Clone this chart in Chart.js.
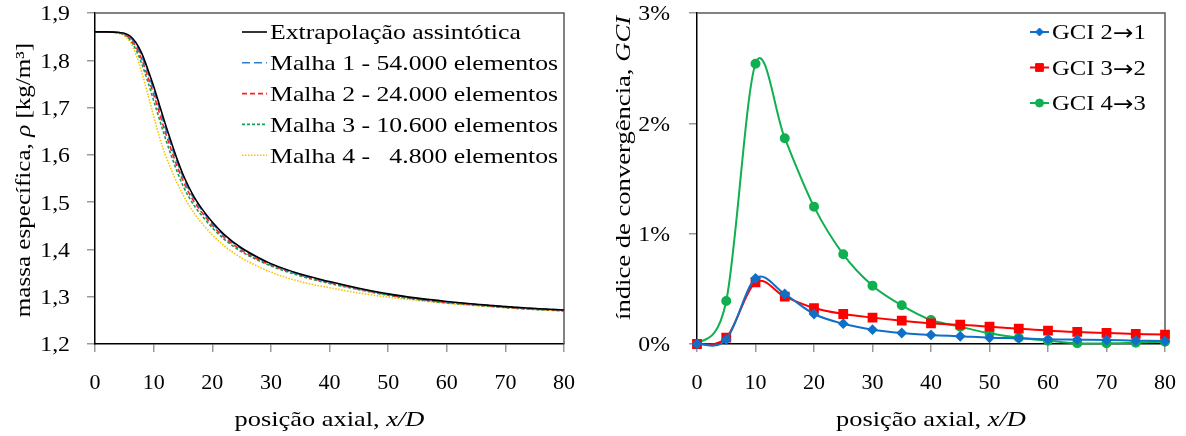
<!DOCTYPE html>
<html lang="pt">
<head>
<meta charset="utf-8">
<title>Massa específica e índice de convergência</title>
<script src="https://cdn.jsdelivr.net/npm/chart.js@4.4.1/dist/chart.umd.min.js"></script>
<style>
  html, body { margin: 0; padding: 0; background: #fff; }
  #wrap { display: flex; width: 1186px; height: 436px; }
  .box { width: 593px; height: 436px; }
</style>
</head>
<body>
<div id="wrap">
  <div class="box"><canvas id="rhoChart" width="593" height="436"></canvas></div>
  <div class="box"><canvas id="gciChart" width="593" height="436"></canvas></div>
</div>
<script>
// Massa específica ao longo do eixo
const xRho = [0, 2, 4, 5, 6, 7, 8, 9, 10, 11, 12, 13, 14, 15, 16, 17, 18, 20, 22, 25, 28, 30, 35, 40, 45, 50, 55, 60, 65, 70, 75, 80];
const rhoExtrap = [1.860, 1.860, 1.859, 1.857, 1.851, 1.837, 1.814, 1.781, 1.745, 1.705, 1.665, 1.627, 1.591, 1.559, 1.532, 1.509, 1.490, 1.458, 1.432, 1.403, 1.382, 1.370, 1.348, 1.332, 1.318, 1.306, 1.297, 1.290, 1.284, 1.279, 1.275, 1.272];
const rhoMalha1 = [1.860, 1.860, 1.859, 1.856, 1.849, 1.833, 1.808, 1.775, 1.738, 1.698, 1.658, 1.620, 1.585, 1.554, 1.527, 1.505, 1.487, 1.455, 1.430, 1.401, 1.381, 1.369, 1.347, 1.331, 1.317, 1.305, 1.296, 1.289, 1.284, 1.279, 1.275, 1.272];
const rhoMalha2 = [1.860, 1.860, 1.858, 1.855, 1.846, 1.828, 1.801, 1.766, 1.728, 1.688, 1.648, 1.611, 1.576, 1.546, 1.520, 1.499, 1.482, 1.451, 1.426, 1.398, 1.378, 1.367, 1.346, 1.330, 1.316, 1.304, 1.295, 1.288, 1.283, 1.278, 1.274, 1.271];
const rhoMalha3 = [1.860, 1.860, 1.858, 1.854, 1.843, 1.822, 1.792, 1.755, 1.715, 1.675, 1.635, 1.599, 1.565, 1.535, 1.511, 1.491, 1.475, 1.446, 1.422, 1.395, 1.376, 1.365, 1.344, 1.328, 1.315, 1.303, 1.294, 1.287, 1.282, 1.277, 1.273, 1.270];
const rhoMalha4 = [1.860, 1.860, 1.857, 1.852, 1.839, 1.812, 1.774, 1.728, 1.683, 1.637, 1.600, 1.569, 1.541, 1.516, 1.494, 1.475, 1.459, 1.431, 1.408, 1.382, 1.363, 1.352, 1.332, 1.319, 1.308, 1.299, 1.292, 1.286, 1.281, 1.277, 1.273, 1.270];

// GCI (%) nas estações x/D
const xGci = [0, 5, 10, 15, 20, 25, 30, 35, 40, 45, 50, 55, 60, 65, 70, 75, 80];
const gci21 = [0, 0.040, 0.595, 0.453, 0.272, 0.184, 0.130, 0.100, 0.082, 0.070, 0.057, 0.051, 0.042, 0.039, 0.036, 0.030, 0.027];
const gci32 = [0, 0.057, 0.559, 0.429, 0.326, 0.272, 0.239, 0.211, 0.187, 0.175, 0.157, 0.139, 0.121, 0.109, 0.100, 0.091, 0.085];
const gci43 = [0, 0.390, 2.540, 1.865, 1.245, 0.813, 0.529, 0.351, 0.218, 0.157, 0.097, 0.057, 0.030, 0.006, 0.006, 0.012, 0.021];

// Rótulos dos eixos
const xTickLabels = ['0', '10', '20', '30', '40', '50', '60', '70', '80'];
const rhoTickLabels = ['1,2', '1,3', '1,4', '1,5', '1,6', '1,7', '1,8', '1,9'];
const gciTickLabels = ['0%', '1%', '2%', '3%'];

const SERIF = "'Liberation Serif', 'Times New Roman', serif";
const ARROW_FONT = "'DejaVu Sans', sans-serif";

function toPoints(xs, ys) {
  return xs.map((x, i) => ({ x: x, y: ys[i] }));
}

// Text made of pieces (plain / italic / other font), stretched a bit
// horizontally so it looks like the wide LaTeX font of the original
function drawText(ctx, parts, x, y, o) {
  const list = parts.map((p) => (typeof p === 'string' ? { t: p } : p));
  const fontOf = (p) => (p.i ? 'italic ' : '') + (p.s || o.size) + 'px ' + (p.f || SERIF);
  ctx.save();
  ctx.translate(x, y);
  if (o.rotate) ctx.rotate(-Math.PI / 2);
  ctx.scale(o.sx || 1, 1);
  ctx.fillStyle = '#000';
  ctx.textAlign = 'left';
  ctx.textBaseline = 'alphabetic';
  let total = 0;
  list.forEach((p) => { ctx.font = fontOf(p); total += ctx.measureText(p.t).width; });
  let cx = o.align === 'center' ? -total / 2 : (o.align === 'right' ? -total : 0);
  list.forEach((p) => {
    ctx.font = fontOf(p);
    ctx.fillText(p.t, cx, o.size * 0.34 + (p.dy || 0));
    cx += ctx.measureText(p.t).width;
  });
  ctx.restore();
}

function labelParts(label) {
  return label.split(/(→)/).filter(Boolean).map((s) => (s === '→' ? { t: s, f: ARROW_FONT, dy: 1 } : { t: s }));
}

// Legend drawn inside the plot area
const figLegend = {
  id: 'figLegend',
  afterDraw(chart, args, opts) {
    const ctx = chart.ctx;
    chart.data.datasets.forEach((ds, i) => {
      const y = opts.y + i * opts.gap;
      ctx.save();
      ctx.beginPath();
      ctx.strokeStyle = ds.borderColor;
      ctx.lineWidth = ds.borderWidth;
      ctx.setLineDash(ds.borderDash || []);
      ctx.moveTo(opts.x, y);
      ctx.lineTo(opts.x + opts.len, y);
      ctx.stroke();
      ctx.setLineDash([]);
      if (ds.pointStyle && ds.pointRadius) {
        ctx.fillStyle = ds.pointBackgroundColor;
        ctx.strokeStyle = ds.pointBorderColor;
        ctx.lineWidth = 1;
        Chart.helpers.drawPoint(ctx, { pointStyle: ds.pointStyle, radius: ds.pointRadius, rotation: 0, borderWidth: 1 }, opts.x + opts.len / 2, y);
      }
      ctx.restore();
      drawText(ctx, labelParts(ds.label), opts.x + opts.len + 3, y, { size: opts.size, sx: opts.sx, align: 'left' });
    });
  }
};

// Tick labels placed at the library's tick positions
const tickText = {
  id: 'tickText',
  afterDraw(chart, args, opts) {
    const ctx = chart.ctx;
    const xs = chart.scales.x;
    const ys = chart.scales.y;
    xs.ticks.forEach((t, i) => {
      drawText(ctx, [opts.xLabels[i]], xs.getPixelForValue(t.value), 382, { size: 22, sx: 1.0, align: 'center' });
    });
    ys.ticks.forEach((t, i) => {
      drawText(ctx, [opts.yLabels[i]], opts.yLabelX, ys.getPixelForValue(t.value), { size: 22, sx: 1.08, align: 'right' });
    });
  }
};

// Gray top/right frame and axis titles
const frameAndTitles = {
  id: 'frameAndTitles',
  beforeDatasetsDraw(chart) {
    const a = chart.chartArea;
    const ctx = chart.ctx;
    ctx.save();
    ctx.strokeStyle = '#595959';
    ctx.lineWidth = 1.5;
    ctx.beginPath();
    ctx.moveTo(a.left, a.top);
    ctx.lineTo(a.right, a.top);
    ctx.lineTo(a.right, a.bottom);
    ctx.stroke();
    ctx.restore();
  },
  afterDraw(chart, args, opts) {
    const a = chart.chartArea;
    drawText(chart.ctx, opts.xTitle, (a.left + a.right) / 2, 419, { size: 22, sx: 1.2, align: 'center' });
    drawText(chart.ctx, opts.yTitle, opts.yTitleX, opts.yTitleY, { size: 22, sx: opts.ySx, align: 'center', rotate: true });
  }
};

// Excel-like smoothing (uniform Catmull-Rom) for the GCI curves
const excelSmooth = {
  id: 'excelSmooth',
  beforeDatasetDraw(chart, args) {
    const pts = args.meta.data;
    const k = 1 / 6;
    pts.forEach((p, i) => {
      const a = pts[i - 1] || p;
      const b = pts[i + 1] || p;
      p.cp1x = p.x - (b.x - a.x) * k;
      p.cp1y = p.y - (b.y - a.y) * k;
      p.cp2x = p.x + (b.x - a.x) * k;
      p.cp2y = p.y + (b.y - a.y) * k;
    });
    args.meta.dataset._pointsUpdated = true;
  }
};

function axisX() {
  return {
    type: 'linear',
    min: 0,
    max: 80,
    afterFit: (s) => { s.height = 92; },
    grid: { drawOnChartArea: false, drawTicks: true, tickLength: 8, color: '#9a9a9a', lineWidth: 1.5 },
    border: { display: true, color: '#000', width: 1.5 },
    ticks: { stepSize: 10, display: false }
  };
}

function axisY(min, max, step, width) {
  return {
    type: 'linear',
    min: min,
    max: max,
    afterFit: (s) => { s.width = width; },
    grid: { drawOnChartArea: false, drawTicks: true, tickLength: 8, color: '#9a9a9a', lineWidth: 1.5 },
    border: { display: true, color: '#000', width: 1.5 },
    ticks: { stepSize: step, display: false }
  };
}

// Left chart: density
new Chart(document.getElementById('rhoChart'), {
  type: 'line',
  data: {
    datasets: [
      { label: 'Extrapolação assintótica', data: toPoints(xRho, rhoExtrap), borderColor: '#000000', borderWidth: 1.6, borderDash: [], order: 0 },
      { label: 'Malha 1 - 54.000 elementos', data: toPoints(xRho, rhoMalha1), borderColor: '#2f7fd0', borderWidth: 1.6, borderDash: [8, 4], order: 1 },
      { label: 'Malha 2 - 24.000 elementos', data: toPoints(xRho, rhoMalha2), borderColor: '#ff2020', borderWidth: 1.6, borderDash: [5, 3], order: 2 },
      { label: 'Malha 3 - 10.600 elementos', data: toPoints(xRho, rhoMalha3), borderColor: '#10a050', borderWidth: 1.6, borderDash: [3, 2], order: 3 },
      { label: 'Malha 4 - \u20074.800 elementos', data: toPoints(xRho, rhoMalha4), borderColor: '#ffc000', borderWidth: 1.6, borderDash: [1.5, 1.5], order: 4 }
    ]
  },
  options: {
    responsive: false,
    animation: false,
    elements: { point: { radius: 0 }, line: { cubicInterpolationMode: 'monotone' } },
    layout: { padding: { top: 13, right: 29, left: 0, bottom: 0 } },
    scales: {
      x: axisX(),
      y: axisY(1.2, 1.9, 0.1, 95)
    },
    plugins: {
      legend: { display: false },
      tooltip: { enabled: false },
      figLegend: { x: 242, y: 32, gap: 30.8, len: 25, size: 22, sx: 1.17 },
      tickText: { xLabels: xTickLabels, yLabels: rhoTickLabels, yLabelX: 70 },
      frameAndTitles: {
        xTitle: ['posição axial, ', { t: 'x/D', i: true }],
        yTitle: ['massa específica, ', { t: 'ρ', i: true }, ' [kg/m³]'],
        yTitleX: 23,
        yTitleY: 180,
        ySx: 1.14
      }
    }
  },
  plugins: [frameAndTitles, tickText, figLegend]
});

// Right chart: GCI
new Chart(document.getElementById('gciChart'), {
  type: 'line',
  data: {
    datasets: [
      { label: 'GCI 2→1', data: toPoints(xGci, gci21), borderColor: '#1070c8', borderWidth: 2, pointStyle: 'rectRot', pointRadius: 4, pointBackgroundColor: '#1070c8', pointBorderColor: '#1070c8', clip: false },
      { label: 'GCI 3→2', data: toPoints(xGci, gci32), borderColor: '#ff0000', borderWidth: 2, pointStyle: 'rect', pointRadius: 5.5, pointBackgroundColor: '#ff0000', pointBorderColor: '#ff0000', clip: false },
      { label: 'GCI 4→3', data: toPoints(xGci, gci43), borderColor: '#10b050', borderWidth: 2, pointStyle: 'circle', pointRadius: 4, pointBackgroundColor: '#10b050', pointBorderColor: '#10b050', clip: false }
    ]
  },
  options: {
    responsive: false,
    animation: false,
    elements: { line: { tension: 0.4 } },
    layout: { padding: { top: 13, right: 21, left: 0, bottom: 0 } },
    scales: {
      x: axisX(),
      y: axisY(0, 3, 1, 104)
    },
    plugins: {
      legend: { display: false },
      tooltip: { enabled: false },
      figLegend: { x: 437, y: 32, gap: 35.5, len: 19, size: 22, sx: 1.12 },
      tickText: { xLabels: xTickLabels, yLabels: gciTickLabels, yLabelX: 77 },
      frameAndTitles: {
        xTitle: ['posição axial, ', { t: 'x/D', i: true }],
        yTitle: ['índice de convergência, ', { t: 'GCI', i: true }],
        yTitleX: 30,
        yTitleY: 168,
        ySx: 1.21
      }
    }
  },
  plugins: [frameAndTitles, excelSmooth, tickText, figLegend]
});
</script>
</body>
</html>
